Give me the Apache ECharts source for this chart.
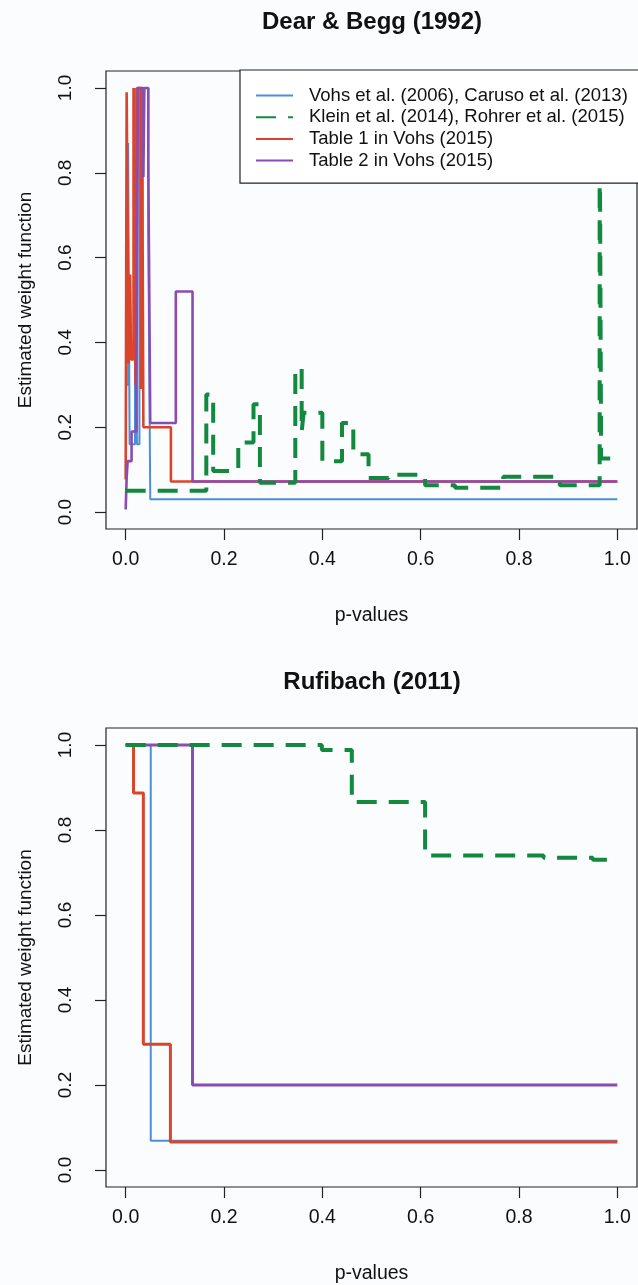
<!DOCTYPE html>
<html>
<head>
<meta charset="utf-8">
<title>Estimated weight functions</title>
<script src="https://cdn.jsdelivr.net/npm/echarts@6/dist/echarts.min.js"></script>
<style>
  html, body { margin: 0; padding: 0; background: #fbfcfd; }
  #chart { width: 638px; height: 1285px; }
</style>
</head>
<body>
<div id="chart"></div>
<script>
// legend order
const seriesNames = [
  'Vohs et al. (2006), Caruso et al. (2013)',
  'Klein et al. (2014), Rohrer et al. (2015)',
  'Table 1 in Vohs (2015)',
  'Table 2 in Vohs (2015)'
]
const xTicks = [0, 0.2, 0.4, 0.6, 0.8, 1.0]
const yTicks = [0, 0.2, 0.4, 0.6, 0.8, 1.0]

// Dear & Begg (1992) : step start p-values and weights
const dbVohsP = [0, 0.005, 0.008, 0.019, 0.023, 0.028, 0.033, 0.035, 0.046, 0.050, 1.0]
const dbVohsW = [0.30, 0.87, 0.16, 1.0, 0.16, 1.0, 0.35, 1.0, 0.66, 0.03, 0.03]
const dbKleinP = [0, 0.164, 0.178, 0.229, 0.260, 0.273, 0.345, 0.358, 0.362, 0.400, 0.440, 0.463,
  0.494, 0.535, 0.609, 0.670, 0.768, 0.883, 0.964, 0.967, 1.0]
const dbKleinW = [0.05, 0.277, 0.097, 0.164, 0.254, 0.069, 0.338, 0.19, 0.234, 0.12, 0.21, 0.136,
  0.08, 0.088, 0.063, 0.057, 0.083, 0.063, 1.0, 0.126, 0.126]
const dbTable1P = [0, 0.002, 0.006, 0.009, 0.011, 0.016, 0.020, 0.023, 0.031, 0.034, 0.036, 0.092, 1.0]
const dbTable1W = [0.077, 0.99, 0.35, 0.56, 0.36, 1.0, 0.30, 1.0, 0.29, 0.79, 0.20, 0.072, 0.072]
const dbTable2P = [0, 0.002, 0.004, 0.012, 0.022, 0.025, 0.036, 0.038, 0.046, 0.050, 0.102, 0.136, 1.0]
const dbTable2W = [0.006, 0.08, 0.12, 0.19, 0.30, 1.0, 0.79, 1.0, 0.83, 0.21, 0.52, 0.072, 0.072]

// Rufibach (2011)
const rfVohsP = [0, 0.051, 1.0]
const rfVohsW = [1.0, 0.069, 0.069]
const rfKleinP = [0, 0.399, 0.460, 0.609, 0.85, 0.95, 1.0]
const rfKleinW = [1.0, 0.988, 0.866, 0.74, 0.735, 0.73, 0.73]
const rfTable1P = [0, 0.016, 0.036, 0.091, 1.0]
const rfTable1W = [1.0, 0.887, 0.296, 0.066, 0.066]
const rfTable2P = [0, 0.136, 1.0]
const rfTable2W = [1.0, 0.2, 0.2]

const colors = ['#4a8fd8', '#12893e', '#d9452b', '#8a4bb2']
const font = "'Liberation Sans', Arial, sans-serif"

function steps(p, w) {
  return p.map((x, i) => [x, w[i]])
}

function xAxisFor(gi) {
  return {
    gridIndex: gi, type: 'value', min: -0.04, max: 1.04,
    name: 'p-values', nameLocation: 'middle', nameGap: 77,
    nameTextStyle: { fontSize: 19.5, color: '#111', fontFamily: font },
    axisLine: { show: false, onZero: false },
    axisTick: { show: true, customValues: xTicks, length: 11, lineStyle: { color: '#222', width: 1.2 } },
    axisLabel: { customValues: xTicks, formatter: v => v.toFixed(1), margin: 21,
      fontSize: 19.5, color: '#111', fontFamily: font },
    splitLine: { show: false }
  }
}

function yAxisFor(gi) {
  return {
    gridIndex: gi, type: 'value', min: -0.04, max: 1.04,
    name: 'Estimated weight function', nameLocation: 'middle', nameGap: 71, nameRotate: 90,
    nameTextStyle: { fontSize: 19, color: '#111', fontFamily: font },
    axisLine: { show: false, onZero: false },
    axisTick: { show: true, customValues: yTicks, length: 11, lineStyle: { color: '#222', width: 1.2 } },
    axisLabel: { customValues: yTicks, formatter: v => v.toFixed(1), margin: 31, rotate: 90,
      fontSize: 19, color: '#111', fontFamily: font },
    splitLine: { show: false }
  }
}

function line(name, gi, p, w, color, width, dashed) {
  return {
    name: name, type: 'line', xAxisIndex: gi, yAxisIndex: gi,
    data: steps(p, w), step: 'end', symbol: 'none', color: color,
    lineStyle: { color: color, width: width, type: dashed ? [20, 12] : 'solid' }
  }
}

const myChart = echarts.init(document.getElementById('chart'))
const option = {
  animation: false,
  backgroundColor: '#fbfcfd',
  title: [
    { text: 'Dear & Begg (1992)', left: 372, textAlign: 'center', top: 10, padding: 0,
      textStyle: { fontSize: 24, fontWeight: 'bold', color: '#111', fontFamily: font } },
    { text: 'Rufibach (2011)', left: 372, textAlign: 'center', top: 670, padding: 0,
      textStyle: { fontSize: 24, fontWeight: 'bold', color: '#111', fontFamily: font } }
  ],
  legend: {
    data: seriesNames, orient: 'vertical', left: 240, top: 70,
    itemWidth: 37, itemHeight: 14, itemGap: 2.7,
    padding: [16, 20, 13, 15],
    itemStyle: { opacity: 0 },
    backgroundColor: '#ffffff', borderColor: '#222', borderWidth: 1.2, borderRadius: 0,
    textStyle: { fontSize: 18.5, lineHeight: 18, color: '#111', fontFamily: font, padding: [0, 0, 0, 11] }
  },
  grid: [
    { left: 106, top: 71, width: 531, height: 458, show: true, borderColor: '#222', borderWidth: 1.2,
      backgroundColor: 'transparent' },
    { left: 106, top: 728, width: 531, height: 459, show: true, borderColor: '#222', borderWidth: 1.2,
      backgroundColor: 'transparent' }
  ],
  xAxis: [xAxisFor(0), xAxisFor(1)],
  yAxis: [yAxisFor(0), yAxisFor(1)],
  series: [
    line(seriesNames[0], 0, dbVohsP, dbVohsW, colors[0], 2),
    line(seriesNames[2], 0, dbTable1P, dbTable1W, colors[2], 2.6),
    line(seriesNames[3], 0, dbTable2P, dbTable2W, colors[3], 2.6),
    line(seriesNames[1], 0, dbKleinP, dbKleinW, colors[1], 4, true),
    line(seriesNames[0], 1, rfVohsP, rfVohsW, colors[0], 2),
    line(seriesNames[2], 1, rfTable1P, rfTable1W, colors[2], 3),
    line(seriesNames[3], 1, rfTable2P, rfTable2W, colors[3], 3),
    line(seriesNames[1], 1, rfKleinP, rfKleinW, colors[1], 4, true)
  ]
}
myChart.setOption(option)
</script>
</body>
</html>
